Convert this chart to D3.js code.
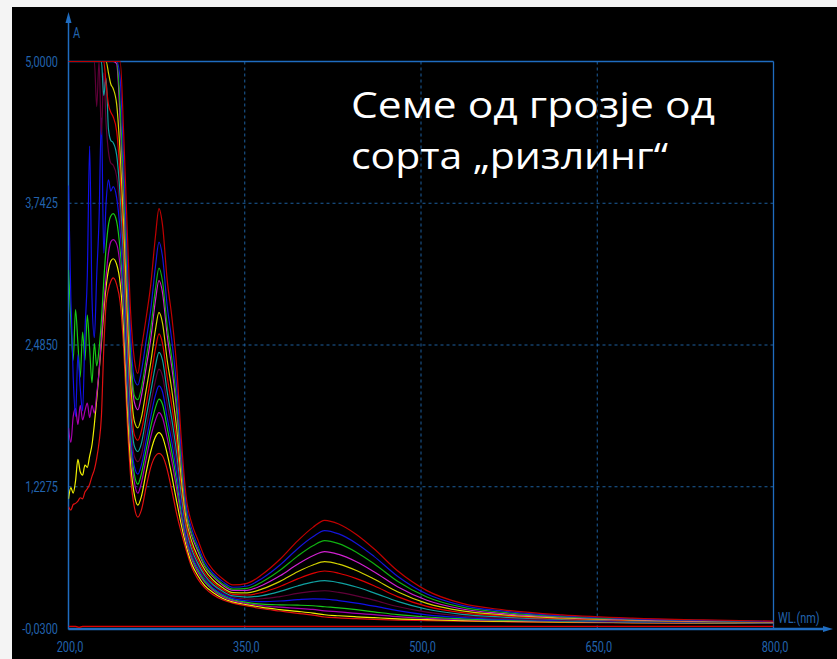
<!DOCTYPE html>
<html>
<head>
<meta charset="utf-8">
<script src="https://cdn.jsdelivr.net/npm/d3@7"></script>
<style>
  html, body { margin: 0; padding: 0; background: #f4f4f4; }
  svg { display: block; }
</style>
</head>
<body>
<svg id="chart" width="837" height="659"></svg>
<script>
// Wavelength grids (nm): dense, noisy deep-UV part and the smoother remainder
const uvWl = [200,202,204,206,208,210,212,214,216,218,220,222,224,226,228,230,232,234,236];
const wl = [238,241,244,247,250,253,256,259,262,266,270,274,277,280,284,288,292,296,300,305,310,316,323,
            331,340,352,365,380,395,408,418,430,445,460,480,505,535,570,620,680,740,800];

// Absorbance of each dilution, deep-UV part (instrument ceiling at 5.0)
const uv1  = [5,5,5,5,5,5,5,5,5,5,5,5,5,5,5,5,5,5,5];
const uv2  = [5,5,5,5,5,5,5,5,5,5,5,5,5,5,5,5,5,5,5];
const uv3  = [5,5,5,5,5,5,5,5,5,5,5,5,5,5,5,5,5,5,5];
const uv4  = [5,5,5,5,5,5,5,5,5,5,5,5,5,5,5,5,5,5,5];
const uv5  = [5,5,5,5,5,5,5,5,5,5,5,5,5,5,5,5,5,4.9,4.8];
const uv6  = [5,5,5,5,5,5,5,5,5,5,5,5,5,5,5,5,4.8,4.62,4.55];
const uv7  = [5,5,5,5,5,5,5,5,5,5,5,5,5,5,5,4.7,4.85,4.4,4.3];
const uv8  = [5,5,5,5,5,5,5,5,5,5,5,5,4.6,5,4.35,4.9,4.45,4.2,4.1];
const uv9  = [3.9,2.9,2.2,1.85,2.4,2.1,1.9,2.6,3.1,4.25,2.9,2.55,3.1,3.6,4.5,3.3,3.75,3.95,3.85];
const uv10 = [3.15,2.7,2.35,2.8,2.5,2.2,2.6,2.35,2.75,2.45,2.15,2.5,2.3,2.45,2.7,3.05,3.35,3.55,3.63];
const uv11 = [1.75,1.62,1.85,1.92,1.78,1.95,1.82,1.9,1.97,1.84,1.95,1.88,2.05,2.25,2.55,2.85,3.1,3.3,3.4];
const uv12 = [1.12,1.22,1.17,1.28,1.47,1.36,1.33,1.42,1.4,1.5,1.6,1.78,2.0,2.25,2.5,2.78,3.0,3.15,3.23];
const uv13 = [1.05,1.02,1.07,1.08,1.1,1.13,1.12,1.18,1.21,1.25,1.32,1.38,1.48,1.62,1.85,2.45,2.85,2.98,3.05];

// Absorbance of each dilution from 238 nm onwards
const s1  = [5,5,5,4.35,3.5,2.75,2.36,2.233,2.45,2.72,3.02,3.45,3.695,3.55,3.06,2.73,2.3,1.65,1.15,0.9,0.76,0.6,0.49,
             0.413,0.357,0.371,0.451,0.584,0.747,0.867,0.93,0.897,0.804,0.677,0.482,0.306,0.193,0.136,0.091,0.062,0.046,0.035];
const s2  = [5,5,4.84,4.09,3.27,2.55,2.18,2.13,2.25,2.52,2.8,3.18,3.398,3.27,2.83,2.52,2.12,1.54,1.08,0.85,0.71,0.56,0.46,
             0.388,0.336,0.347,0.416,0.533,0.678,0.783,0.839,0.809,0.725,0.61,0.434,0.276,0.175,0.124,0.083,0.056,0.042,0.032];
const s3  = [5,5,4.59,3.89,3.09,2.4,2.04,2.0,2.1,2.36,2.63,2.98,3.167,3.05,2.65,2.36,1.98,1.45,1.03,0.81,0.68,0.53,0.44,
             0.368,0.319,0.326,0.385,0.486,0.612,0.704,0.75,0.723,0.647,0.545,0.39,0.25,0.159,0.113,0.076,0.053,0.039,0.03];
const s4  = [5,4.98,4.48,3.79,3.0,2.32,1.98,1.91,2.03,2.28,2.54,2.88,3.057,2.95,2.57,2.28,1.92,1.41,1.01,0.79,0.66,0.52,0.43,
             0.356,0.308,0.309,0.354,0.437,0.54,0.615,0.652,0.627,0.562,0.474,0.341,0.221,0.143,0.102,0.071,0.049,0.037,0.029];
const s5  = [4.76,4.62,4.18,3.54,2.78,2.14,1.81,1.75,1.84,2.08,2.33,2.62,2.775,2.68,2.35,2.08,1.75,1.3,0.95,0.74,0.61,0.49,0.4,
             0.333,0.288,0.286,0.321,0.388,0.473,0.533,0.563,0.541,0.485,0.409,0.296,0.193,0.126,0.091,0.063,0.044,0.033,0.027];
const s6  = [4.51,4.38,3.98,3.38,2.63,2.01,1.69,1.64,1.72,1.95,2.19,2.45,2.583,2.5,2.2,1.94,1.63,1.23,0.9,0.7,0.58,0.46,0.38,
             0.317,0.273,0.267,0.291,0.343,0.41,0.459,0.48,0.46,0.412,0.349,0.253,0.166,0.11,0.081,0.057,0.041,0.031,0.025];
const s7  = [4.28,4.17,3.8,3.23,2.5,1.9,1.59,1.54,1.61,1.84,2.07,2.3,2.419,2.35,2.07,1.82,1.53,1.16,0.87,0.67,0.55,0.44,0.36,
             0.302,0.259,0.249,0.262,0.299,0.347,0.381,0.394,0.377,0.338,0.286,0.211,0.141,0.096,0.071,0.051,0.037,0.028,0.023];
const s8  = [4.08,3.98,3.65,3.1,2.39,1.8,1.5,1.45,1.51,1.74,1.96,2.17,2.271,2.21,1.96,1.72,1.44,1.11,0.84,0.64,0.53,0.42,0.35,
             0.288,0.247,0.231,0.234,0.253,0.281,0.299,0.305,0.29,0.259,0.221,0.165,0.115,0.08,0.06,0.045,0.033,0.027,0.022];
const s9  = [3.89,3.79,3.49,2.97,2.27,1.7,1.41,1.34,1.42,1.63,1.85,2.04,2.123,2.07,1.84,1.62,1.35,1.05,0.8,0.62,0.51,0.41,0.33,
             0.275,0.235,0.216,0.208,0.214,0.226,0.233,0.231,0.218,0.195,0.168,0.128,0.091,0.067,0.052,0.04,0.03,0.024,0.021];
const s10 = [3.65,3.58,3.32,2.87,2.18,1.62,1.34,1.25,1.34,1.55,1.76,1.93,2.005,1.96,1.75,1.53,1.28,1.0,0.78,0.6,0.49,0.39,0.32,
             0.264,0.225,0.202,0.186,0.18,0.177,0.172,0.163,0.153,0.137,0.118,0.093,0.072,0.055,0.045,0.035,0.028,0.023,0.019];
const s11 = [3.42,3.38,3.18,2.77,2.08,1.54,1.27,1.17,1.26,1.47,1.67,1.82,1.885,1.84,1.66,1.45,1.21,0.96,0.75,0.58,0.47,0.38,0.31,
             0.253,0.217,0.192,0.172,0.159,0.149,0.139,0.127,0.118,0.104,0.093,0.075,0.059,0.048,0.04,0.032,0.025,0.021,0.018];
const s12 = [3.25,3.2,3.03,2.61,1.95,1.42,1.16,1.065,1.14,1.35,1.54,1.67,1.708,1.67,1.52,1.32,1.1,0.89,0.71,0.54,0.44,0.35,0.29,
             0.239,0.206,0.181,0.157,0.138,0.122,0.107,0.092,0.083,0.074,0.066,0.056,0.048,0.04,0.034,0.029,0.022,0.019,0.017];
const s13 = [3.08,3.02,2.86,2.45,1.8,1.3,1.05,0.958,1.02,1.22,1.4,1.5,1.524,1.5,1.38,1.19,0.99,0.82,0.67,0.51,0.41,0.33,0.27,
             0.225,0.195,0.17,0.145,0.125,0.105,0.088,0.072,0.064,0.057,0.051,0.045,0.04,0.035,0.03,0.025,0.02,0.017,0.015];

// Blank (reference) trace
const blankWl = [200,206,209,212,800];
const blankA  = [-0.012,-0.012,-0.02,-0.012,-0.012];

const seriesColors = ["#c00000","#1414d8","#10b010","#d020d0","#d2d200","#e00000","#10a0a0",
                      "#600038","#1010e8","#18c818","#a800b0","#f0f000","#e01010"];

const uvParts   = [uv1,uv2,uv3,uv4,uv5,uv6,uv7,uv8,uv9,uv10,uv11,uv12,uv13];
const mainParts = [s1,s2,s3,s4,s5,s6,s7,s8,s9,s10,s11,s12,s13];

// Axis ticks
const yTicks = [-0.03, 1.2275, 2.485, 3.7425, 5.0];
const yTickLabels = ["-0,0300","1,2275","2,4850","3,7425","5,0000"];
const xTicks = [200, 350, 500, 650, 800];
const xTickLabels = ["200,0","350,0","500,0","650,0","800,0"];

const titleLines = ["Семе од грозје од", "сорта „ризлинг“"];

// ---------- drawing ----------
const svg = d3.select("#chart");
const axisBlue = "#1f6cc0";
const gridBlue = "#1d5f9e";
const textBlue = "#2263ad";
const tickFont = "Roboto, 'Open Sans', sans-serif";
const narrow = 0.78;   // condensed look of the instrument's axis font

svg.append("rect").attr("x", 12).attr("y", 7).attr("width", 825).attr("height", 652).attr("fill", "#000");

const x = d3.scaleLinear().domain([200, 800]).range([68.5, 773.5]);
const y = d3.scaleLinear().domain([-0.03, 5]).range([628.5, 61.5]);

// dashed grid
svg.append("g").selectAll("line").data(yTicks.slice(1, -1)).join("line")
  .attr("x1", x(200)).attr("x2", x(800))
  .attr("y1", d => y(d)).attr("y2", d => y(d))
  .attr("stroke", gridBlue).attr("stroke-width", 1).attr("stroke-dasharray", "3,3");
svg.append("g").selectAll("line").data(xTicks.slice(1, -1)).join("line")
  .attr("x1", d => x(d)).attr("x2", d => x(d))
  .attr("y1", y(5)).attr("y2", y(-0.03))
  .attr("stroke", gridBlue).attr("stroke-width", 1).attr("stroke-dasharray", "3,3");

// frame: top and right borders
svg.append("line").attr("x1", x(200)).attr("x2", x(800)).attr("y1", y(5)).attr("y2", y(5))
  .attr("stroke", axisBlue).attr("stroke-width", 1.3);
svg.append("line").attr("x1", x(800)).attr("x2", x(800)).attr("y1", y(5)).attr("y2", y(-0.03))
  .attr("stroke", axisBlue).attr("stroke-width", 1.3);

// axes with arrows
svg.append("line").attr("x1", x(200)).attr("x2", x(200)).attr("y1", y(-0.03) + 1).attr("y2", 20)
  .attr("stroke", axisBlue).attr("stroke-width", 1.5);
svg.append("path").attr("d", `M${x(200) - 3},23 L${x(200)},12 L${x(200) + 3},23 Z`).attr("fill", axisBlue);
svg.append("line").attr("x1", x(200)).attr("x2", 826).attr("y1", y(-0.03) + 0.5).attr("y2", y(-0.03) + 0.5)
  .attr("stroke", axisBlue).attr("stroke-width", 2.5);
svg.append("path").attr("d", `M823,${y(-0.03) - 2.5} L833,${y(-0.03) + 0.5} L823,${y(-0.03) + 3.5} Z`).attr("fill", axisBlue);

// spectra
const clip = svg.append("defs").append("clipPath").attr("id", "plotClip");
clip.append("rect").attr("x", x(200)).attr("y", y(5) - 2).attr("width", x(800) - x(200)).attr("height", y(-0.03) - y(5) + 2);

const line = d3.line().x(d => x(d[0])).y(d => y(d[1])).curve(d3.curveMonotoneX);
const plot = svg.append("g").attr("clip-path", "url(#plotClip)");

plot.append("path")
  .attr("d", line(blankWl.map((w, i) => [w, blankA[i]])))
  .attr("fill", "none").attr("stroke", "#e00000").attr("stroke-width", 1.3);

const spectra = mainParts.map((vals, k) =>
  uvWl.map((w, i) => [w, uvParts[k][i]]).concat(wl.map((w, i) => [w, vals[i]])));

plot.selectAll("path.spec").data(spectra.map((d, k) => ({ d, k })).reverse()).join("path")
  .attr("class", "spec")
  .attr("d", o => line(o.d))
  .attr("fill", "none")
  .attr("stroke", o => seriesColors[o.k])
  .attr("stroke-width", 1.2);

// axis text, horizontally condensed around its anchor point
function axisText(g, tx, ty, anchor, str) {
  g.append("text")
    .attr("transform", `translate(${tx},${ty}) scale(${narrow},1)`)
    .attr("text-anchor", anchor).attr("fill", textBlue)
    .style("font-family", tickFont).style("font-size", "14px")
    .text(str);
}
const labels = svg.append("g");
yTicks.forEach((t, i) => axisText(labels, 58, y(t) + 5, "end", yTickLabels[i]));
xTicks.forEach((t, i) => axisText(labels, x(t) + 1.5, 652, "middle", xTickLabels[i]));
axisText(labels, 73, 38, "start", "A");
axisText(labels, 778, 623, "start", "WL.(nm)");

// title
const titleWidths = [364, 317];
svg.append("g").selectAll("text").data(titleLines).join("text")
  .attr("x", 351).attr("y", (d, i) => 118 + i * 51)
  .attr("fill", "#fff")
  .attr("textLength", (d, i) => titleWidths[i])
  .attr("lengthAdjust", "spacingAndGlyphs")
  .style("font-family", "'Open Sans', 'Noto Sans', sans-serif").style("font-size", "36px")
  .text(d => d);
</script>
</body>
</html>
